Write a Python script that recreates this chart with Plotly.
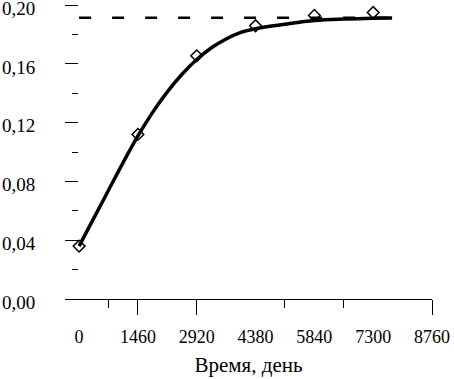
import plotly.graph_objects as go

# Measured points
days = [0, 1460, 2920, 4380, 5840, 7300]
values = [0.036, 0.112, 0.1655, 0.186, 0.193, 0.195]

# Fitted curve
curve_days = [0, 365, 730, 1095, 1460, 1825, 2190, 2555, 2920, 3285, 3650,
              4015, 4380, 5110, 5840, 6570, 7300, 7770]
curve_values = [0.036, 0.055, 0.074, 0.093, 0.111, 0.127, 0.141, 0.153, 0.163,
                0.171, 0.177, 0.1815, 0.184, 0.187, 0.1895, 0.1905, 0.191, 0.1913]

# Asymptote
limit_days = [0, 7770]
limit_values = [0.1915, 0.1915]

x_tickvals = [0, 1460, 2920, 4380, 5840, 7300, 8760]
x_ticktext = ["0", "1460", "2920", "4380", "5840", "7300", "8760"]
x_long_ticks = [1460, 2920, 8760]
x_short_ticks = [730, 5110, 6570]
y_tickvals = [0, 0.04, 0.08, 0.12, 0.16, 0.20]
y_ticktext = ["0,00", "0,04", "0,08", "0,12", "0,16", "0,20"]
y_minor = [0.02, 0.06, 0.10, 0.14, 0.18]

FONT = "Liberation Serif, serif"
XR = [-350, 8760]

fig = go.Figure()
fig.add_trace(go.Scatter(
    x=limit_days, y=limit_values, mode="lines", xaxis="x2",
    line=dict(color="black", width=2.5, dash="12px,21px"), showlegend=False))
fig.add_trace(go.Scatter(
    x=days, y=values, mode="markers",
    marker=dict(symbol="diamond-open", size=9, color="black",
                line=dict(color="black", width=1.5)), showlegend=False))
fig.add_trace(go.Scatter(
    x=curve_days, y=curve_values, mode="lines", line_shape="spline",
    line=dict(color="black", width=3.5), showlegend=False))

fig.update_layout(
    width=454, height=379,
    margin=dict(l=65, r=22, t=5, b=80, autoexpand=False),
    paper_bgcolor="white", plot_bgcolor="white",
    font=dict(family=FONT, color="black"),
    hovermode=False,
    xaxis=dict(
        range=XR, tickmode="array", tickvals=x_tickvals, ticktext=x_ticktext,
        ticks="", showline=True, linecolor="black", linewidth=1,
        showgrid=False, zeroline=False, automargin=False,
        tickfont=dict(family=FONT, size=18, color="black"),
        ticklabelstandoff=21, ticklabeloverflow="allow",
        minor=dict(tickmode="array", tickvals=x_short_ticks, ticks="outside",
                   ticklen=8, tickwidth=1, tickcolor="black", showgrid=False),
        title=dict(text="Время, день", font=dict(family=FONT, size=21, color="black"),
                   standoff=11),
    ),
    xaxis2=dict(
        range=XR, overlaying="x", anchor="y", side="bottom",
        tickmode="array", tickvals=x_long_ticks, ticks="outside", ticklen=15,
        tickwidth=1, tickcolor="black", showticklabels=False, automargin=False,
        showline=False, showgrid=False, zeroline=False,
    ),
    yaxis=dict(
        range=[0, 0.2001], anchor="free", position=13 / 367,
        tickmode="array", tickvals=y_tickvals, ticktext=y_ticktext,
        ticks="outside", ticklen=13, tickwidth=1, tickcolor="black",
        showline=False, showgrid=False, zeroline=False, automargin=False,
        tickfont=dict(family=FONT, size=19, color="black"),
        ticklabelstandoff=26, ticklabelshift=3, ticklabeloverflow="allow",
        minor=dict(tickmode="array", tickvals=y_minor, ticks="outside",
                   ticklen=6, tickwidth=1, tickcolor="black", showgrid=False),
    ),
)

fig.write_html("out.html", config={"displayModeBar": False},
               post_script="document.body.style.margin='0';")
